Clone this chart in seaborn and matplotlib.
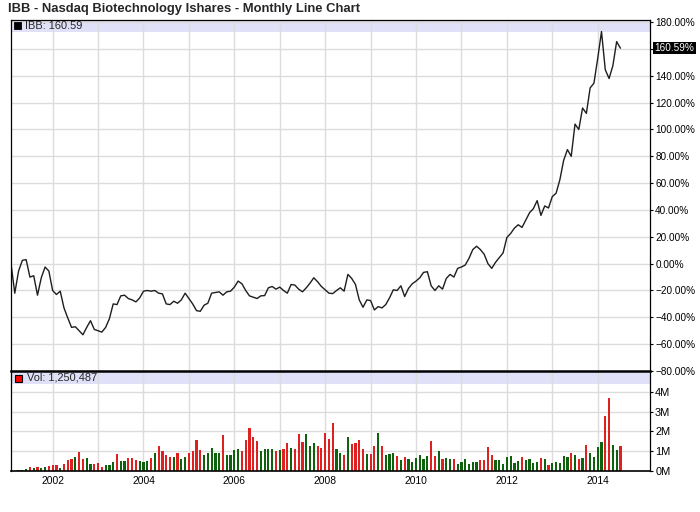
import numpy as np
import pandas as pd
import matplotlib
matplotlib.use("Agg")
import matplotlib.pyplot as plt
from matplotlib.patches import Rectangle
import seaborn as sns

# ---------------- data (monthly, Feb 2001 - Jul 2014) ----------------
title = "IBB - Nasdaq Biotechnology Ishares - Monthly Line Chart"
first_month = "2001-02-01"

pct_2001 = [0, -22, -5.5, 2.5, 3, -10, -9, -23.5, -10.5, -2.5, -5.5]
pct_2002 = [-20, -23, -20.5, -33, -40.5, -47.5, -47, -50, -53, -47.5, -42.5, -49]
pct_2003 = [-50, -51, -47.5, -41, -30, -30.5, -24, -23.5, -26, -27, -28.5, -25.5]
pct_2004 = [-20.5, -20, -20.5, -20, -22, -22.5, -30, -30.5, -28, -29.5, -27, -22]
pct_2005 = [-26, -30, -35, -35.5, -31, -29.5, -22, -21.5, -21, -23.5, -21, -20.5]
pct_2006 = [-17.5, -13, -15, -20, -24, -25, -26, -24, -23.8, -18, -17, -19]
pct_2007 = [-17.5, -20, -22, -15.5, -16, -19, -21, -18, -14.5, -10.5, -13.5, -17]
pct_2008 = [-19.5, -22, -22.3, -20, -18, -20.5, -8, -11, -15.5, -27, -32.5, -27]
pct_2009 = [-27.5, -34.5, -32, -33, -30.5, -25.5, -19.5, -20, -16.5, -24.5, -18.5, -15]
pct_2010 = [-13, -10.5, -6.5, -6, -16.5, -20, -16.5, -19, -11, -8, -10, -3.5]
pct_2011 = [-2.5, -1, 4, 10.5, 13, 10.5, 7, 0, -3.5, 1, 4.5, 8]
pct_2012 = [19.5, 22.5, 26.5, 29, 27, 32.5, 38, 41, 47, 36, 43, 41.5]
pct_2013 = [50, 52.5, 62.5, 77, 85, 80, 104, 100, 116, 112, 131, 134.5]
pct_2014 = [153, 173, 144.5, 138, 147.5, 165.5, 160.59]

vol_2001 = [0, 0, 0.05, 0.05, 0.10, 0.20, 0.15, 0.20, 0.17, 0.20, 0.25]
vol_2002 = [0.30, 0.30, 0.17, 0.35, 0.55, 0.60, 0.70, 0.96, 0.60, 0.65, 0.35, 0.35]
vol_2003 = [0.40, 0.20, 0.30, 0.30, 0.45, 0.86, 0.50, 0.50, 0.65, 0.65, 0.55, 0.50]
vol_2004 = [0.47, 0.50, 0.65, 0.90, 1.26, 1.00, 0.80, 0.70, 0.70, 0.90, 0.60, 0.70]
vol_2005 = [0.90, 1.00, 1.56, 1.05, 0.80, 0.90, 1.15, 0.90, 0.90, 1.81, 0.80, 0.80]
vol_2006 = [1.05, 1.10, 1.00, 1.56, 2.17, 1.71, 1.51, 1.00, 1.10, 1.10, 1.10, 1.00]
vol_2007 = [1.05, 1.10, 1.41, 1.15, 1.10, 1.86, 1.46, 1.86, 1.26, 1.41, 1.26, 1.15]
vol_2008 = [1.92, 1.61, 2.42, 1.10, 0.90, 0.80, 1.71, 1.36, 1.41, 1.56, 1.11, 0.86]
vol_2009 = [0.86, 1.26, 1.92, 1.26, 0.81, 0.86, 0.91, 0.76, 0.55, 0.71, 0.61, 0.45]
vol_2010 = [0.66, 0.81, 0.61, 0.76, 1.51, 0.76, 1.01, 0.61, 0.66, 0.61, 0.61, 0.35]
vol_2011 = [0.45, 0.61, 0.35, 0.45, 0.45, 0.55, 0.55, 1.21, 0.81, 0.55, 0.55, 0.35]
vol_2012 = [0.71, 0.76, 0.40, 0.50, 0.71, 0.55, 0.61, 0.40, 0.45, 0.66, 0.61, 0.30]
vol_2013 = [0.40, 0.45, 0.40, 0.76, 0.71, 0.91, 0.81, 0.61, 0.66, 1.31, 0.91, 0.71]
vol_2014 = [1.21, 1.46, 2.77, 3.68, 1.31, 1.06, 1.25]

# bar colour as read: g = up month (green), r = down month (red)
dir_2001 = list("gggggrgrggr")
dir_2002 = list("rrgrrrgrrggr")
dir_2003 = list("rrgggrggrrrg")
dir_2004 = list("ggrgrrrrgrgg")
dir_2005 = list("rrrrgggggrgg")
dir_2006 = list("ggrrrrrggggr")
dir_2007 = list("grrgrrrgggrr")
dir_2008 = list("rrrggrgrrrrg")
dir_2009 = list("rrgrgggrgrgg")
dir_2010 = list("ggggrrgrggrg")
dir_2011 = list("gggggrrrrggg")
dir_2012 = list("ggggrggggrgr")
dir_2013 = list("gggggrgrgrgg")
dir_2014 = list("ggrrggr")

y_tick_values = [-80, -60, -40, -20, 0, 20, 40, 60, 80, 100, 120, 140, 160, 180]
vol_tick_values = [0, 1, 2, 3, 4]
vol_tick_labels = ["0M", "1M", "2M", "3M", "4M"]
grid_years = list(range(2002, 2015))
x_tick_labels = ["2002", "", "2004", "", "2006", "", "2008", "", "2010", "", "2012", "", "2014"]
last_value = 160.59
last_volume_text = "Vol: 1,250,487"
legend_text = "IBB: 160.59"

# ---------------- assemble ----------------
pct = sum([pct_2001, pct_2002, pct_2003, pct_2004, pct_2005, pct_2006, pct_2007,
           pct_2008, pct_2009, pct_2010, pct_2011, pct_2012, pct_2013, pct_2014], [])
vol = sum([vol_2001, vol_2002, vol_2003, vol_2004, vol_2005, vol_2006, vol_2007,
           vol_2008, vol_2009, vol_2010, vol_2011, vol_2012, vol_2013, vol_2014], [])
dirs = sum([dir_2001, dir_2002, dir_2003, dir_2004, dir_2005, dir_2006, dir_2007,
            dir_2008, dir_2009, dir_2010, dir_2011, dir_2012, dir_2013, dir_2014], [])

dates = pd.date_range(first_month, periods=len(pct), freq="MS")
t = dates.year + (dates.month - 1) / 12.0
df = pd.DataFrame({"t": t, "pct": pct, "vol": vol,
                   "dir": ["up" if d == "g" else "down" for d in dirs]})

# ---------------- style ----------------
sns.set_style("white")
plt.rcParams["font.family"] = ["Liberation Sans", "DejaVu Sans"]
plt.rcParams["axes.unicode_minus"] = True

W, H = 700, 512
fig = plt.figure(figsize=(W / 100, H / 100), dpi=100)
fig.patch.set_facecolor("white")

x_left_px, x_right_px = 11, 650
top_px, mid_px, bot_px = 20, 371, 471
L = x_left_px / W
Wd = (x_right_px - x_left_px) / W
ax1 = fig.add_axes([L, 1 - mid_px / H, Wd, (mid_px - top_px) / H])
ax2 = fig.add_axes([L, 1 - bot_px / H, Wd, (bot_px - mid_px) / H])

XMIN, XMAX = 2001 + 1 / 12, 2015.151
grid_c = "#dcdcdc"

# price line
sns.lineplot(data=df, x="t", y="pct", ax=ax1, color="#1e1e1e", linewidth=1.0)

# volume bars
sns.barplot(data=df, x="t", y="vol", hue="dir", ax=ax2, native_scale=True,
            palette={"up": "#007000", "down": "#ff0000"}, dodge=False,
            errorbar=None, legend=False, width=0.58, linewidth=0, orient="x")

for ax in (ax1, ax2):
    ax.set_xlim(XMIN, XMAX)
    ax.set_xticks(grid_years)
    ax.set_axisbelow(True)
    ax.grid(True, color=grid_c, linewidth=1.0)
    ax.set_xlabel("")
    ax.set_ylabel("")
    ax.yaxis.tick_right()
    for s in ax.spines.values():
        s.set_color("black")
        s.set_linewidth(0.9)
        s.set_visible(True)

# top panel axis
ax1.set_ylim(-80, 181.6)
ax1.set_yticks(y_tick_values)
ax1.set_yticklabels(["" if v == 160 else f"{v:.2f}%".replace("-", "\u2212") for v in y_tick_values])
ax1.tick_params(axis="y", direction="out", length=2.5, width=0.8, pad=1.2,
                labelsize=7.2, colors="black", right=True, left=False)
ax1.tick_params(axis="x", length=0, labelbottom=False)
ax1.spines["bottom"].set_visible(False)

# volume panel axis
ax2.set_ylim(0, 5.05)
ax2.set_yticks(vol_tick_values)
ax2.set_yticklabels(vol_tick_labels)
ax2.set_xticklabels(x_tick_labels)
ax2.tick_params(axis="y", direction="out", length=2.5, width=0.8, pad=1.2,
                labelsize=7.9, colors="black", right=True, left=False)
ax2.tick_params(axis="x", length=0, pad=3.5, labelsize=7.4, colors="black")
ax2.spines["top"].set_linewidth(1.8)
ax2.spines["bottom"].set_linewidth(1.2)

# legend bands
band1 = 12 / (mid_px - top_px)
ax1.add_patch(Rectangle((0, 1 - band1), 1, band1, transform=ax1.transAxes,
                        facecolor="#e0e0f8", edgecolor="none", zorder=0.2))
band2 = 13 / (bot_px - mid_px)
ax2.add_patch(Rectangle((0, 1 - band2), 1, band2, transform=ax2.transAxes,
                        facecolor="#e0e0f8", edgecolor="none", zorder=0.2))

# legend markers and texts
fig.add_artist(Rectangle((14 / W, 1 - 29 / H), 7 / W, 7 / H, transform=fig.transFigure,
                         facecolor="black", edgecolor="black", linewidth=0.6))
fig.text(25 / W, 1 - 26 / H, legend_text, fontsize=7.9, va="center", ha="left")
fig.add_artist(Rectangle((15 / W, 1 - 381.5 / H), 7 / W, 7 / H, transform=fig.transFigure,
                         facecolor="#ff0000", edgecolor="black", linewidth=0.8))
fig.text(27 / W, 1 - 378 / H, last_volume_text, fontsize=7.9, va="center", ha="left")

# last value highlight
ax1.annotate(f"{last_value:.2f}%", xy=(1, last_value), xycoords=("axes fraction", "data"),
             xytext=(3.2, 0), textcoords="offset points", va="center", ha="left",
             fontsize=7.2, color="white",
             bbox=dict(boxstyle="square,pad=0.12", facecolor="black", edgecolor="none"),
             annotation_clip=False)

# title
fig.text(8 / W, 1 - 9 / H, title, fontsize=9.35, fontweight="bold", va="center", ha="left")

fig.savefig("out.png", dpi=100, facecolor="white")
